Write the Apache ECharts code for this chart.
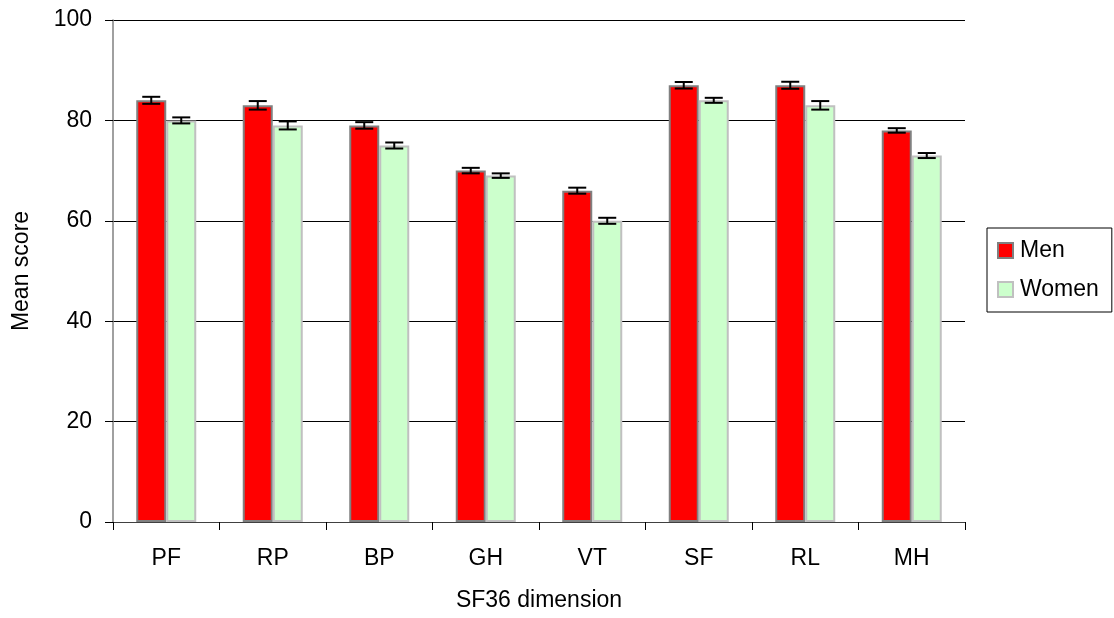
<!DOCTYPE html>
<html>
<head>
<meta charset="utf-8">
<script src="https://cdn.jsdelivr.net/npm/echarts@6/dist/echarts.min.js"></script>
<style>
html,body{margin:0;padding:0;background:#fff;}
#c{width:1114px;height:618px;}
</style>
</head>
<body>
<div id="c"></div>
<script>
var categories = ['PF', 'RP', 'BP', 'GH', 'VT', 'SF', 'RL', 'MH'];
var menValues = [84, 83, 79, 70, 66, 87, 87, 78];
var womenValues = [80, 79, 75, 69, 60, 84, 83, 73];
var menErrors = [0.7, 0.85, 0.65, 0.55, 0.6, 0.65, 0.7, 0.45];
var womenErrors = [0.6, 0.8, 0.6, 0.45, 0.6, 0.5, 0.85, 0.5];
var yTicks = [0, 20, 40, 60, 80, 100];

var FONT = 'Liberation Sans, Arial, sans-serif';
var FS = 23;
var BAR_W = 30;

function errData(vals, errs) {
  return vals.map(function (v, i) { return [i, v - errs[i], v + errs[i]]; });
}
function errRender(offset) {
  return function (params, api) {
    var lo = api.coord([api.value(0), api.value(1)]);
    var hi = api.coord([api.value(0), api.value(2)]);
    var x = lo[0] + offset;
    var s = {stroke: '#000', lineWidth: 2};
    return {
      type: 'group',
      children: [
        {type: 'line', shape: {x1: x, y1: hi[1], x2: x, y2: lo[1]}, style: s},
        {type: 'line', shape: {x1: x - 9, y1: hi[1], x2: x + 9, y2: hi[1]}, style: s},
        {type: 'line', shape: {x1: x - 9, y1: lo[1], x2: x + 9, y2: lo[1]}, style: s}
      ]
    };
  };
}

var chart = echarts.init(document.getElementById('c'), null, {renderer: 'canvas'});
chart.setOption({
  animation: false,
  textStyle: {fontFamily: FONT},
  grid: {left: 113, right: 149, top: 20, bottom: 96},
  legend: {
    orient: 'vertical',
    left: 987, top: 228,
    padding: [11, 13, 11, 10],
    borderColor: '#000', borderWidth: 1,
    itemWidth: 15, itemHeight: 15, itemGap: 16,
    icon: 'rect',
    textStyle: {fontSize: FS, color: '#000', fontFamily: FONT, padding: [0, 0, 0, 2]},
    data: ['Men', 'Women']
  },
  xAxis: {
    type: 'category',
    data: categories,
    name: 'SF36 dimension',
    nameLocation: 'middle',
    nameGap: 67,
    nameTextStyle: {fontSize: FS, color: '#000', fontFamily: FONT},
    axisLine: {lineStyle: {color: '#404040', width: 1}},
    axisTick: {show: true, length: 8, lineStyle: {color: '#000'}},
    axisLabel: {fontSize: FS, color: '#000', margin: 25, fontFamily: FONT},
    splitLine: {show: false}
  },
  yAxis: {
    type: 'value',
    min: 0, max: 100, interval: 20,
    name: 'Mean score',
    nameLocation: 'middle',
    nameGap: 80,
    nameTextStyle: {fontSize: FS, color: '#000', fontFamily: FONT},
    axisLine: {show: true, lineStyle: {color: '#808080', width: 1.5}},
    axisTick: {show: true, length: 8, lineStyle: {color: '#000'}},
    axisLabel: {fontSize: FS, color: '#000', margin: 21, fontFamily: FONT,
      formatter: function (v) { return yTicks.indexOf(v) >= 0 ? String(v) : ''; }},
    splitLine: {show: true, lineStyle: {color: '#000', width: 1}}
  },
  series: [
    {
      name: 'Men', type: 'bar', data: menValues,
      barWidth: BAR_W, barGap: '0%',
      itemStyle: {color: '#ff0000', borderColor: '#808080', borderWidth: 2}
    },
    {
      name: 'Women', type: 'bar', data: womenValues,
      barWidth: BAR_W, barGap: '0%',
      itemStyle: {color: '#ccffcc', borderColor: '#c0c0c0', borderWidth: 2}
    },
    {
      name: 'MenErr', type: 'custom', data: errData(menValues, menErrors),
      renderItem: errRender(-BAR_W / 2), z: 5,
      encode: {x: 0, y: [1, 2]}
    },
    {
      name: 'WomenErr', type: 'custom', data: errData(womenValues, womenErrors),
      renderItem: errRender(BAR_W / 2), z: 5,
      encode: {x: 0, y: [1, 2]}
    }
  ]
});
</script>
</body>
</html>
